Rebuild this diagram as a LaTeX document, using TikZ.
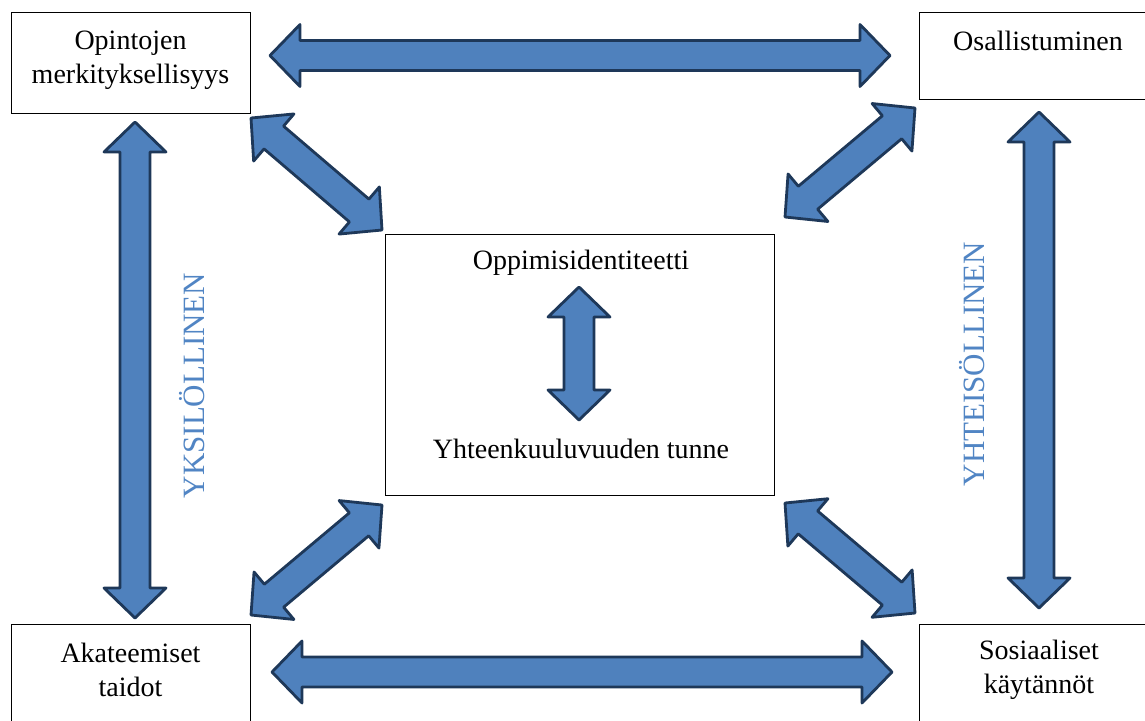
\documentclass[tikz,border=0pt]{standalone}
\usepackage{fontspec}
\setmainfont{Liberation Serif}
\usetikzlibrary{calc}
\definecolor{arrfill}{HTML}{4F81BD}
\definecolor{arrline}{HTML}{1E3859}
\definecolor{sidetext}{HTML}{5185C4}
\newcommand{\fatarrow}[2]{%
\draw[fatarr] (#1) -- ($(#1)!15pt!(#2)!15.5pt!90:(#2)$) -- ($(#1)!15pt!(#2)!7.5pt!90:(#2)$) -- ($(#2)!15pt!(#1)!7.5pt!-90:(#1)$) -- ($(#2)!15pt!(#1)!15.5pt!-90:(#1)$) -- (#2) -- ($(#2)!15pt!(#1)!15.5pt!90:(#1)$) -- ($(#2)!15pt!(#1)!7.5pt!90:(#1)$) -- ($(#1)!15pt!(#2)!7.5pt!-90:(#2)$) -- ($(#1)!15pt!(#2)!15.5pt!-90:(#2)$) -- cycle;}
\tikzset{
  fatarr/.style={fill=arrfill, draw=arrline, line width=1.4pt, line join=round},
  box/.style={draw=black, line width=0.6pt, fill=white, anchor=north west, inner sep=0pt},
  lbl/.style={font=\fontsize{14}{17}\selectfont, align=center, inner sep=0pt},
  side/.style={font=\fontsize{15.5}{18}\selectfont, text=sidetext, rotate=90, inner sep=0pt}
}
\begin{document}
\begin{tikzpicture}[x=0.5pt,y=-0.5pt]
\useasboundingbox (0,0) rectangle (1145,720);
% boxes
\node[box, minimum width=119.5pt, minimum height=50.5pt] (opin) at (11,12) {};
\node[box, minimum width=119pt, minimum height=43.5pt] (osal) at (919,12) {};
\node[box, minimum width=119.5pt, minimum height=60pt] (akat) at (11,624) {};
\node[box, minimum width=119pt, minimum height=60pt] (sosi) at (919,624) {};
\node[box, minimum width=194.5pt, minimum height=130.5pt] (keski) at (385,234) {};
% texts
\node[lbl] (topin) at (130.5,60) {Opintojen\\merkityksellisyys};
\node[lbl] (tosal) at (1038,41) {Osallistuminen};
\node[lbl] (takat) at (130.5,670) {Akateemiset\\taidot};
\node[lbl] (tsosi) at (1039,670) {Sosiaaliset\\käytännöt};
\node[lbl] (toppi) at (581,263) {Oppimisidentiteetti};
\node[lbl] (tyht) at (581,449) {Yhteenkuuluvuuden tunne};
\node[side] (yks) at (192.5,385.5) {YKSILÖLLINEN};
\node[side] (yht) at (972.5,364) {YHTEISÖLLINEN};
% arrow end points
\coordinate (hA) at (270,55.5);
\coordinate (hB) at (890,55.5);
\coordinate (bA) at (272,672);
\coordinate (bB) at (892,672);
\coordinate (lA) at (135,122);
\coordinate (lB) at (135,618);
\coordinate (rA) at (1039,112);
\coordinate (rB) at (1039,608);
\coordinate (cA) at (579,287);
\coordinate (cB) at (579,420);
\coordinate (d1A) at (251,118);
\coordinate (d1B) at (382,230);
\coordinate (d2A) at (915,108);
\coordinate (d2B) at (785,217);
\coordinate (d3A) at (382,505);
\coordinate (d3B) at (251,615);
\coordinate (d4A) at (785,503);
\coordinate (d4B) at (915,613);
% arrows
\fatarrow{hA}{hB}
\fatarrow{bA}{bB}
\fatarrow{lA}{lB}
\fatarrow{rA}{rB}
\fatarrow{cA}{cB}
\fatarrow{d1A}{d1B}
\fatarrow{d2A}{d2B}
\fatarrow{d3A}{d3B}
\fatarrow{d4A}{d4B}
\end{tikzpicture}
\end{document}
